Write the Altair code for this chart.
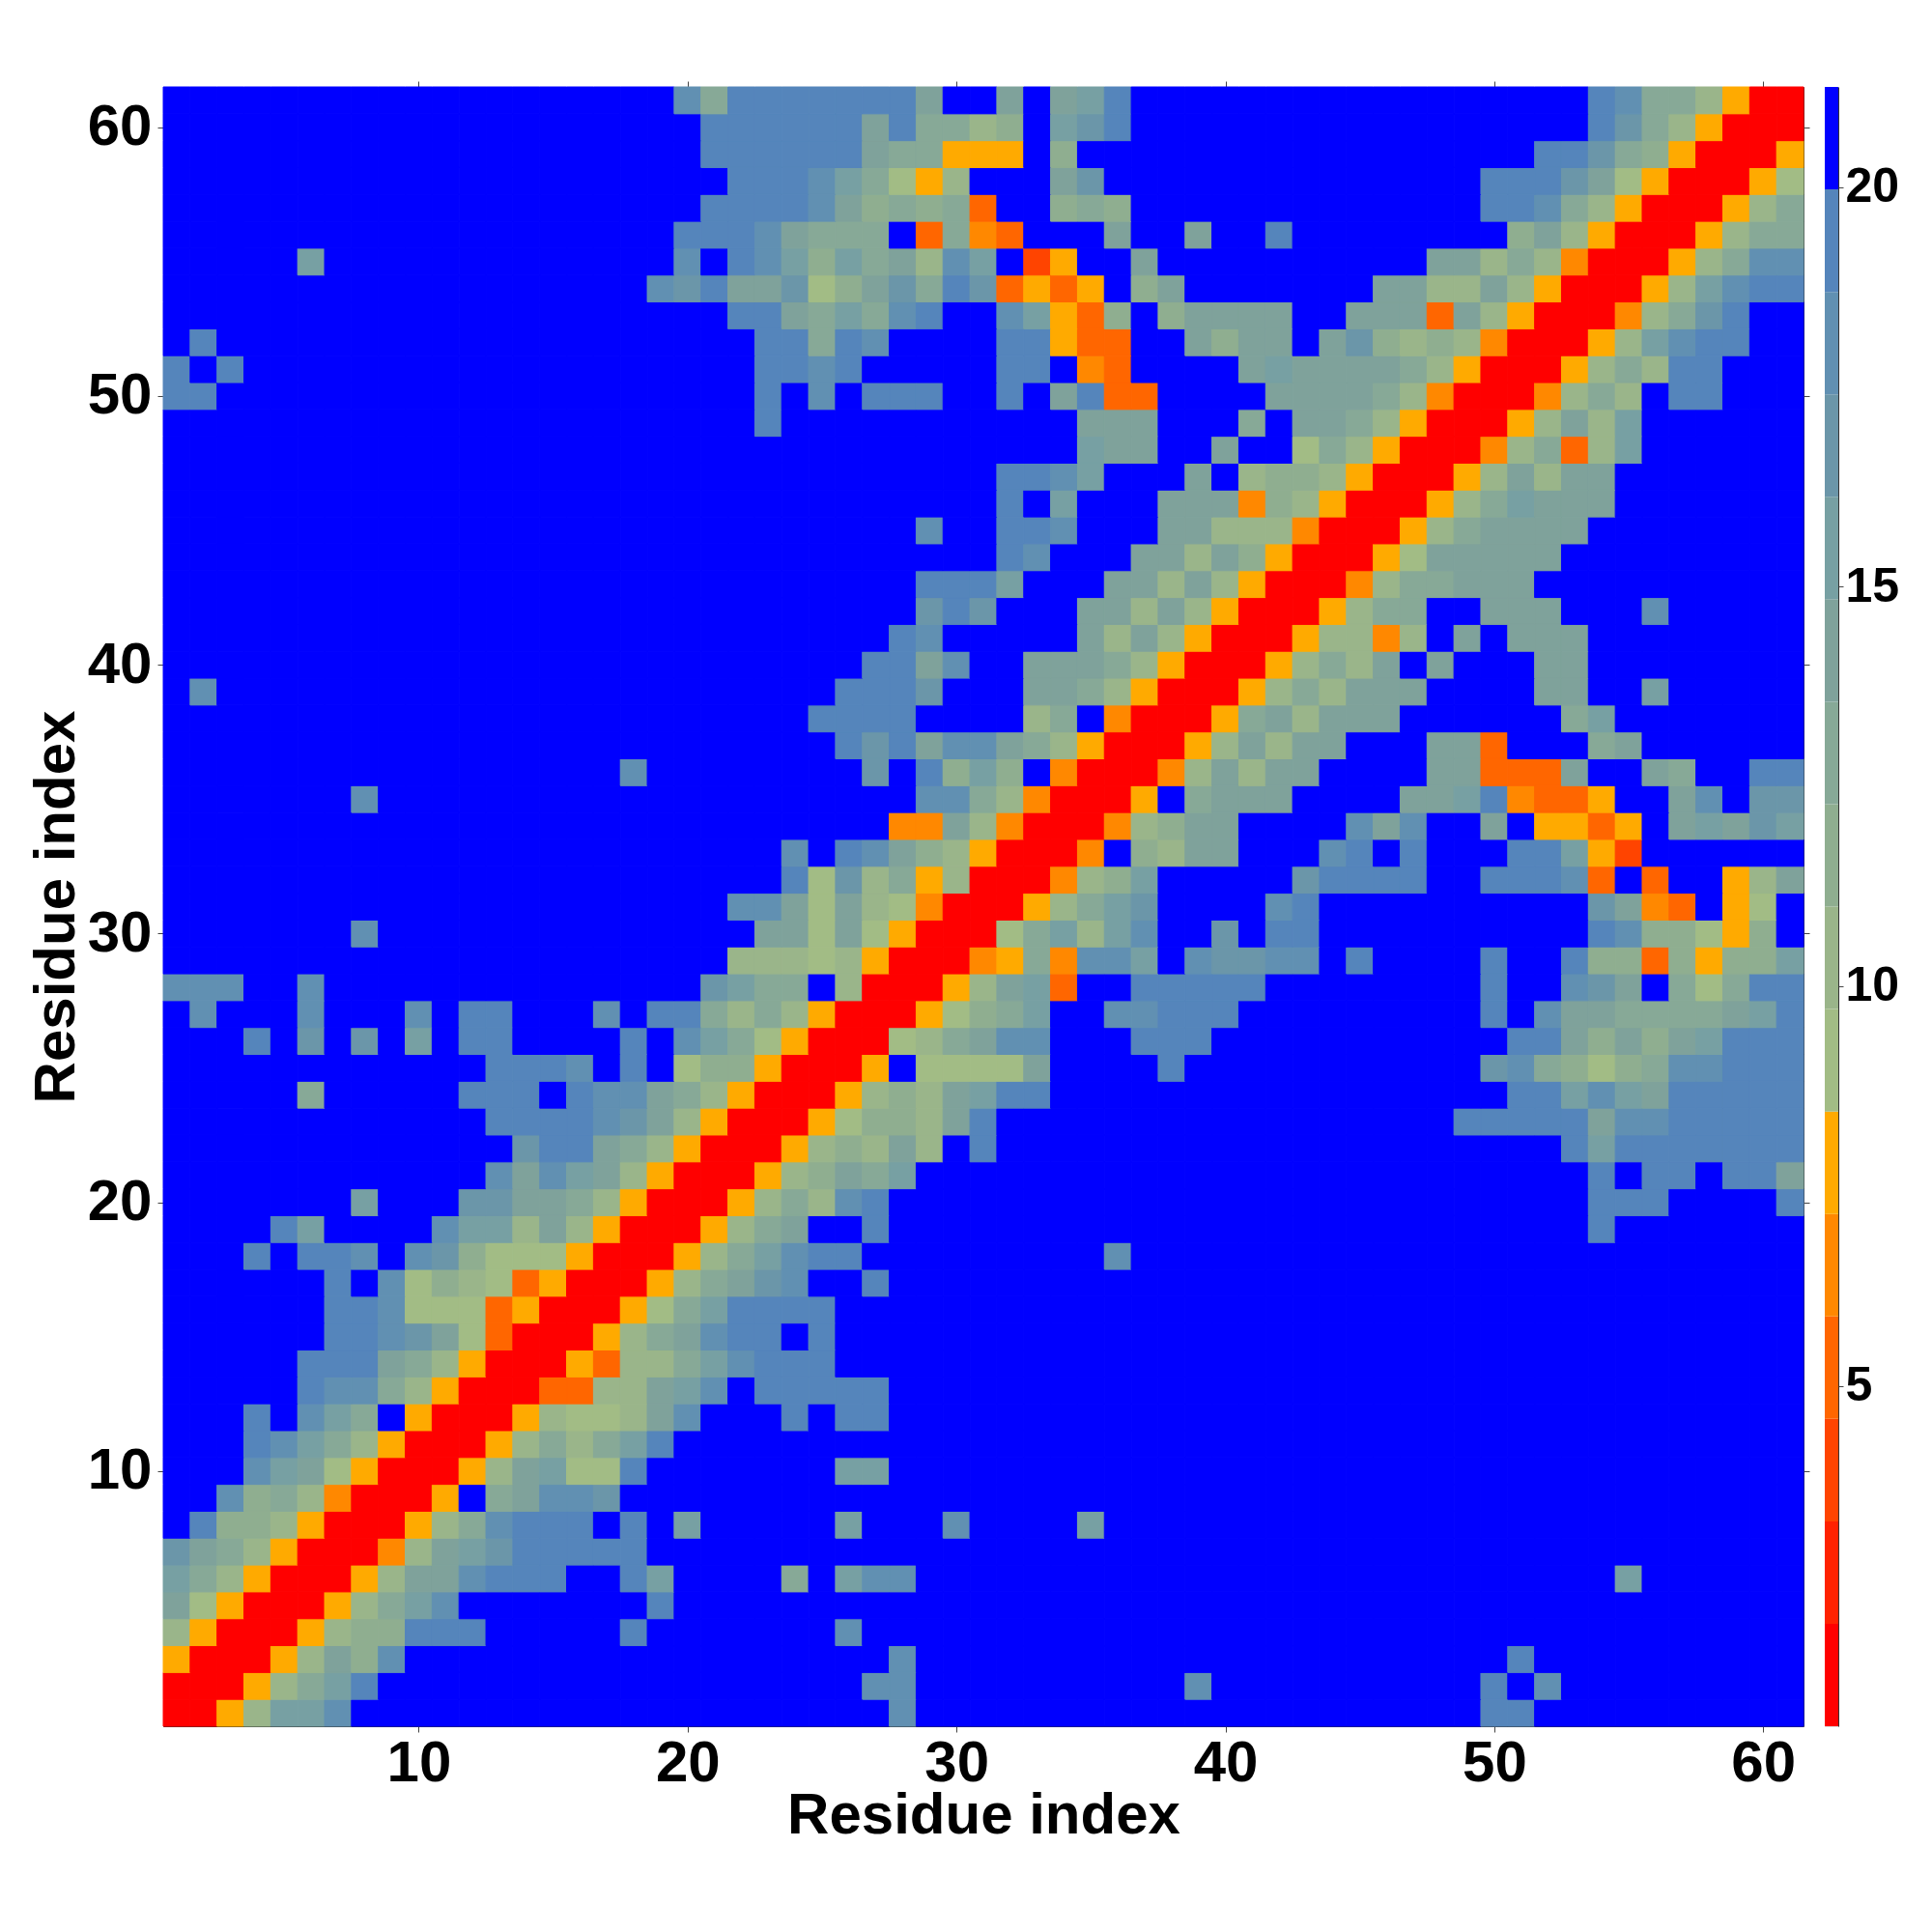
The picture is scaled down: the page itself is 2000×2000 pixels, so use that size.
import altair as alt
import pandas as pd

N = 61
LEVEL_CHARS = "RrXOMYghijklmnp."
LEVEL_COLORS = ["#ff0000", "#ff2200", "#ff4400", "#ff6600", "#ff8800", "#ffaa00",
                "#a2bc85", "#9ab58a", "#8fae90", "#87a997", "#7fa29b", "#77a0a3",
                "#6b96a9", "#6190b2", "#5585bb", "#0000ff"]
BAR_MIN = 0.74
BAR_STEP = 1.282
EDGES = [BAR_MIN + BAR_STEP * i for i in range(17)]
CENTERS = [BAR_MIN + BAR_STEP * (i + 0.5) for i in range(16)]

# cells that are not beyond the top band; (row, [(first column, levels), ...])
ROWS = {
61: [(20, "njpppppppk..k.klp"), (54, "pnjjhYRR")],
60: [(21, "ppppppkpjjhi.lmp"), (54, "pmjhYRRR")],
59: [(21, "ppppppkjjYYY.i"), (52, "ppmjiYRRRY")],
58: [(22, "pppnljgYh"), (34, "km"), (50, "pppmkgYRRRYg")],
57: [(21, "ppppnkijijO"), (34, "iji"), (50, "ppnjhYRRRYhj")],
56: [(20, "pppnkjjj.OjMO"), (36, "k"), (39, "k"), (42, "p"), (51, "ikhYRRRYhjj")],
55: [(6, "l"), (20, "n.pnliljkhnl"), (33, "XY"), (37, "k"), (48, "kkhjhMRRRYhjnn")],
54: [(19, "nmpkkmgikmjpmOYOY.ik"), (46, "kk"), (48, "hhkhYRRRYhlnpp")],
53: [(22, "ppkjljnp"), (32, "nlYOi.ikkkk"), (45, "kkkOkhYRRRMhjmp")],
52: [(2, "p"), (23, "ppjpn"), (32, "ppYOO"), (39, "kikk"), (44, "kmihihMRRRYhlnpp")],
51: [(1, "p.p"), (23, "ppnp"), (32, "pp.MO"), (41, "klkkkkjhYRRRYhjh"), (57, "pp")],
50: [(1, "pp"), (23, "p.n.ppp"), (32, "p.kpOO"), (42, "kkkkjhMRRRMhjh.pp")],
49: [(23, "p"), (35, "kkk"), (41, "j.kkjhYRRRYhkhl")],
48: [(35, "lkk"), (40, "k"), (43, "gjhYRRRMhjOhl")],
47: [(32, "ppnl"), (39, "k"), (41, "hiihYRRRYhkhkk")],
46: [(32, "p.l"), (38, "kkkMihYRRRYhjlkkk")],
45: [(29, "n"), (32, "ppn"), (38, "kkhhhMRRRYhjkkkk")],
44: [(32, "pn"), (37, "kkhkiYRRRYgkkkkk")],
43: [(29, "pppl"), (36, "kkhkhYRRRMhjjkkk")],
42: [(29, "mpm"), (35, "kkhkhYRRRYhjj"), (50, "kkk"), (56, "n")],
41: [(28, "pn"), (35, "khkhYRRRYhhMh"), (49, "k"), (51, "kkk")],
40: [(27, "ppkn"), (33, "kkkjhYRRRYhjhk"), (48, "k"), (52, "kk")],
39: [(2, "n"), (26, "pppm"), (33, "kkjhYRRRYhjhkkk"), (52, "kk"), (56, "l")],
38: [(25, "pppp"), (33, "hj.MRRRYjkhkkk"), (53, "jl")],
37: [(26, "pmpknnkjhYRRRYhkhkk"), (48, "kkO"), (54, "jk")],
36: [(18, "n"), (27, "m"), (29, "pil"), (32, "i.MRRRMhkhkk"), (48, "kkOOOk"), (56, "kj"), (60, "pp")],
35: [(8, "n"), (29, "nnjhMRRRY.jkkk"), (47, "kklpMOOY"), (57, "kn"), (60, "mm")],
34: [(28, "MMkhMRRRMhikk"), (45, "nkn"), (50, "k.YYOY"), (57, "klkml")],
33: [(24, "n"), (26, "pnkihYRRRM.ihkk"), (44, "np.p"), (51, "pplYX")],
32: [(24, "pgmhjYhRRRMhil"), (43, "mpppp"), (50, "pppnO.O"), (59, "Yhk")],
31: [(22, "nnkgkhgMRRRYhjlm"), (42, "np"), (54, "mkMO"), (59, "Yg")],
30: [(8, "n"), (23, "kkgkgYRRRgjlhln"), (40, "m"), (42, "pp"), (54, "pniigYi")],
29: [(22, "hhhghYRRRMYjMnnl"), (39, "nmmnn"), (45, "p"), (50, "p"), (53, "piiOiYiil")],
28: [(1, "nnn"), (6, "n"), (21, "mljj.hRRRYhklO"), (37, "ppppp"), (50, "p"), (53, "nmk.jgjpp")],
27: [(2, "n"), (6, "n"), (10, "n"), (12, "pp"), (17, "n"), (19, "ppjhjhYRRRYgijl"), (36, "nnppp"), (50, "p"), (52, "nkkjjjjklp")],
26: [(4, "p"), (6, "m"), (8, "m"), (10, "l"), (12, "pp"), (18, "p"), (20, "nljgYRRRghjknn"), (37, "ppp"), (51, "ppkikiklppp")],
25: [(13, "pppn"), (18, "p"), (20, "giiYRRRY.ggggk"), (38, "p"), (50, "mnjigijnnppp")],
24: [(6, "j"), (12, "ppp.pnnkjhYRRRYhihklpp"), (51, "pplnlkppppp")],
23: [(13, "ppppnmkhYRRRYgiihkp"), (49, "pppppknnppppp")],
22: [(14, "mppkjhYRRRYhihkh.p"), (53, "plppppppp")],
21: [(13, "nknlkhYRRRYhikjl"), (54, "p"), (56, "pp"), (59, "ppk")],
20: [(8, "l"), (12, "mmkkjhYRRRYhjhnp"), (54, "ppp"), (61, "p")],
19: [(5, "pl"), (11, "nllhkhYRRRYhjk"), (27, "p"), (54, "p")],
18: [(4, "p"), (6, "ppn"), (10, "nmigggYRRRYhjlnpp"), (36, "n")],
17: [(7, "p.ngihgOYRRRYhjkmn"), (27, "p")],
16: [(7, "ppngggOYRRRYgjlpppp")],
15: [(7, "ppnmkgORRRYhjknpp.p")],
14: [(6, "pppkjhYRRRYOhhjlnppp")],
13: [(6, "pnnjhYRRROOhhkln.ppppp")],
12: [(4, "p"), (6, "nlj.YRRRYhgghkn"), (24, "p"), (26, "pp")],
11: [(4, "pnljhYRRRYhjhjlp")],
10: [(4, "nlkgYRRRYhklggp"), (26, "ll")],
9: [(3, "nijhMRRRY.jknnm")],
8: [(2, "piihYRRRYhjnppp"), (18, "p"), (20, "l"), (26, "l"), (30, "n"), (35, "l")],
7: [(1, "mkjhYRRRMhklmppppp")],
6: [(1, "ljhYRRRYhkknppp"), (18, "pl"), (24, "j"), (26, "lnn"), (55, "l")],
5: [(1, "kgYRRRYhjln"), (19, "p")],
4: [(1, "hYRRRYhiippp"), (18, "p"), (26, "n")],
3: [(1, "YRRRYhkin"), (28, "n"), (51, "p")],
2: [(1, "RRRYhjlp"), (27, "nn"), (39, "n"), (50, "p"), (52, "n")],
1: [(1, "RRYhlln"), (28, "n"), (50, "pp")],
}

grid = {(r, c): "." for r in range(1, N + 1) for c in range(1, N + 1)}
for r, segs in ROWS.items():
    for start, s in segs:
        for k, ch in enumerate(s):
            grid[(r, start + k)] = ch

records = []
for (r, c), ch in grid.items():
    records.append({"x0": c - 0.5, "x1": c + 0.5, "y0": r - 0.5, "y1": r + 0.5,
                    "value": CENTERS[LEVEL_CHARS.index(ch)]})
df = pd.DataFrame(records)

bands = pd.DataFrame({"lo": EDGES[:-1], "hi": EDGES[1:], "value": CENTERS})

FONT = "Liberation Sans"
TICKS = [10, 20, 30, 40, 50, 60]
color_scale = alt.Scale(type="threshold", domain=EDGES[1:-1], range=LEVEL_COLORS)
DOMAIN = [0.5, 61.5]
FRAME = "#333333"


def axis(orient, labelled, title=None, label_pad=6, title_pad=4):
    opts = dict(orient=orient, values=TICKS, tickSize=6, tickColor="#444444", tickWidth=1,
                domainColor=FRAME, domainWidth=1, grid=False, labels=labelled)
    if labelled:
        opts.update(labelFont=FONT, labelFontWeight="bold", labelFontSize=60, labelColor="black",
                    labelPadding=label_pad, title=title, titleFont=FONT, titleFontWeight="bold",
                    titleFontSize=60, titleColor="black", format="d", labelFlush=False,
                    labelOverlap=False, titlePadding=title_pad)
    else:
        opts.update(title=None)
    return alt.Axis(**opts)


heat = alt.Chart(df).mark_rect(strokeWidth=1).encode(
    x=alt.X("x0:Q", scale=alt.Scale(domain=DOMAIN, nice=False, zero=False),
            axis=axis("bottom", True, "Residue index", label_pad=3, title_pad=-5)),
    x2="x1:Q",
    y=alt.Y("y0:Q", scale=alt.Scale(domain=DOMAIN, nice=False, zero=False),
            axis=axis("left", True, "Residue index", title_pad=1)),
    y2="y1:Q",
    color=alt.Color("value:Q", scale=color_scale, legend=None),
    stroke=alt.Stroke("value:Q", scale=color_scale, legend=None),
)

frame_axes = alt.Chart(df.head(1)).mark_rect(opacity=0).encode(
    x=alt.X("x0:Q", scale=alt.Scale(domain=DOMAIN, nice=False, zero=False), axis=axis("top", False)),
    x2="x1:Q",
    y=alt.Y("y0:Q", scale=alt.Scale(domain=DOMAIN, nice=False, zero=False), axis=axis("right", False)),
    y2="y1:Q",
)

main = alt.layer(heat, frame_axes).resolve_axis(x="independent", y="independent").properties(
    width=1698, height=1697)

bar = alt.Chart(bands).mark_rect(stroke="#333333", strokeWidth=0).encode(
    x=alt.value(0),
    x2=alt.value(14),
    y=alt.Y("lo:Q", scale=alt.Scale(domain=[EDGES[0], EDGES[-1]], nice=False, zero=False),
            axis=alt.Axis(orient="right", values=[5, 10, 15, 20], tickSize=5, tickColor="#444444",
                          domainColor=FRAME, domainWidth=1, labelFont=FONT, labelFontWeight="bold",
                          labelFontSize=50, labelColor="black", labelPadding=2, title=None,
                          grid=False, format="d", offset=0)),
    y2="hi:Q",
    color=alt.Color("value:Q", scale=color_scale, legend=None),
).properties(width=14, height=1697)

chart = alt.hconcat(main, bar, spacing=14).properties(
    padding={"left": 19, "top": 75, "right": 5, "bottom": 5},
).configure_view(stroke=FRAME, strokeWidth=1).configure(background="white")

chart.save("out.html", embed_options={"renderer": "svg", "actions": False})
